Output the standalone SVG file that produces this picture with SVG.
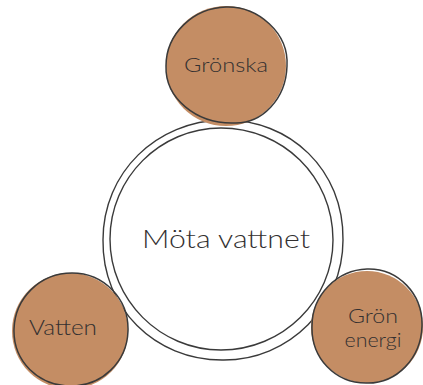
<svg xmlns="http://www.w3.org/2000/svg" width="423" height="385" viewBox="0 0 423 385">
<style>
.ring{fill:none;stroke:#3a3a3a;stroke-width:1.4}
.blob{fill:#C48D64}
.edge{fill:none;stroke:#3a3a3a;stroke-width:1.5}
.lbl{font-family:Lato,"Noto Sans","Liberation Sans",sans-serif;font-weight:300;fill:#333030;text-anchor:middle}
</style>
<rect width="423" height="385" fill="#ffffff"/>
<g id="node-center">
<path class="ring" d="M223,120 C290,119 344,170 343,240 C343,305 290,361 222,360 C155,360 102,308 103,240 C103,172 157,121 223,120 Z"/>
<path class="ring" d="M221,128 C282,128 333,176 333,240 C333,300 283,350 221,350 C160,350 110,300 110,239 C110,178 160,128 221,128 Z"/>
<text class="lbl" x="226" y="248" font-size="25" textLength="168" lengthAdjust="spacingAndGlyphs">Möta vattnet</text>
</g>
<g id="node-gronska">
<circle class="blob" cx="226" cy="66" r="60"/>
<path class="edge" d="M226,7 C258,6 289,33 287,66 C286,99 262,124 234,123 C196,124 165,98 166,66 C166,34 193,8 226,7 Z"/>
<text class="lbl" x="226" y="72" font-size="19" textLength="84" lengthAdjust="spacingAndGlyphs">Grönska</text>
</g>
<g id="node-vatten">
<circle class="blob" cx="70" cy="331" r="58"/>
<path class="edge" d="M72,273 C104,273 129,299 128,331 C127,362 102,386 71,386 C38,386 13,361 14,329 C15,298 40,273 72,273 Z"/>
<text class="lbl" x="63" y="335" font-size="21" textLength="68" lengthAdjust="spacingAndGlyphs">Vatten</text>
</g>
<g id="node-gronenergi">
<circle class="blob" cx="367" cy="327" r="56"/>
<path class="edge" d="M367,269 C398,268 423,294 422,326 C421,358 397,384 366,383 C335,383 311,358 312,326 C312,295 337,270 367,269 Z"/>
<text class="lbl" x="373" y="323" font-size="20" textLength="50" lengthAdjust="spacingAndGlyphs">Grön</text>
<text class="lbl" x="373" y="347" font-size="20" textLength="57" lengthAdjust="spacingAndGlyphs">energi</text>
</g>
</svg>
